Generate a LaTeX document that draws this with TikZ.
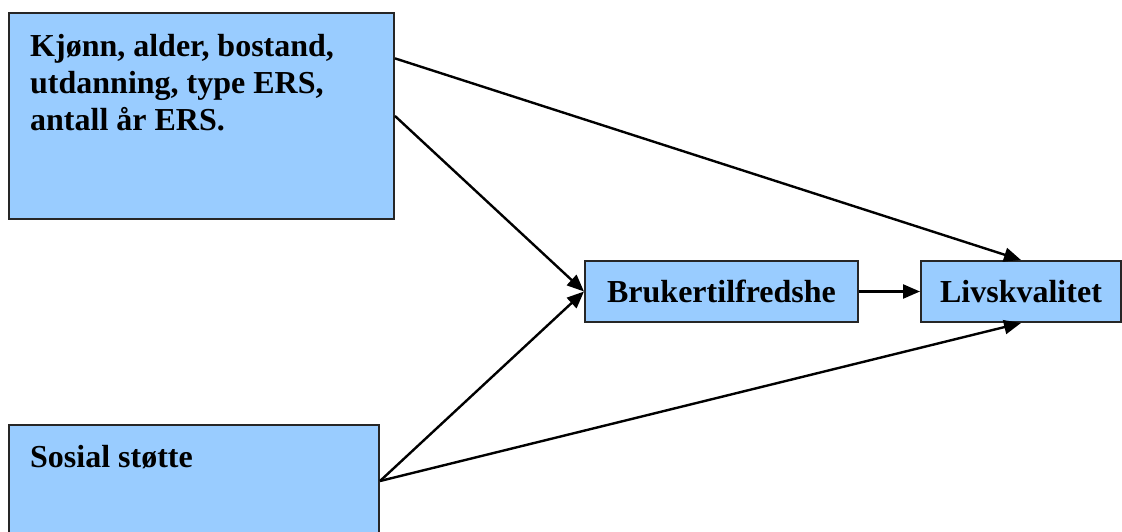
\documentclass[tikz,border=0pt]{standalone}
\usepackage{fontspec}
\setmainfont{Liberation Serif}
\usetikzlibrary{arrows.meta,calc}
\definecolor{boxblue}{HTML}{99CCFF}
\tikzset{
  box/.style ={draw=black!85,line width=2pt,fill=boxblue,inner sep=0pt},
  txt/.style ={font=\fontsize{32}{37}\selectfont\bfseries,inner sep=0pt,align=left},
  ar/.style  ={-{Triangle[length=17pt,width=14pt]},line width=2.4pt},
}
\begin{document}
\begin{tikzpicture}[x=1pt,y=-1pt]
  \useasboundingbox (0,0) rectangle (1122,531);
  \node[box,minimum width=385pt,minimum height=206pt,anchor=north west] (bakgrunn) at (8,12) {};
  \node[txt,anchor=north west] (bakgrunntxt) at (30,34) {Kjønn, alder, bostand,\\utdanning, type ERS,\\antall år ERS.};
  \node[box,minimum width=370pt,minimum height=112pt,anchor=north west] (stotte) at (8,424) {};
  \node[txt,anchor=north west] (stottetxt) at (30,445) {Sosial støtte};
  \node[box,txt,minimum width=273pt,minimum height=61pt] (bruker) at (721.5,291.5) {Brukertilfredshe};
  \node[box,txt,minimum width=200pt,minimum height=61pt] (livs) at (1021,291.5) {Livskvalitet};
  % paths into the two outcome boxes
  \draw[ar] ($(bakgrunn.north east)!0.223!(bakgrunn.south east)$) -- (livs.north);
  \draw[ar] (bakgrunn.east) -- (bruker.west);
  \draw[ar] (stotte.east) -- (bruker.west);
  \draw[ar] (stotte.east) -- (livs.south);
  \draw[ar] (bruker) -- (livs);
\end{tikzpicture}
\end{document}
